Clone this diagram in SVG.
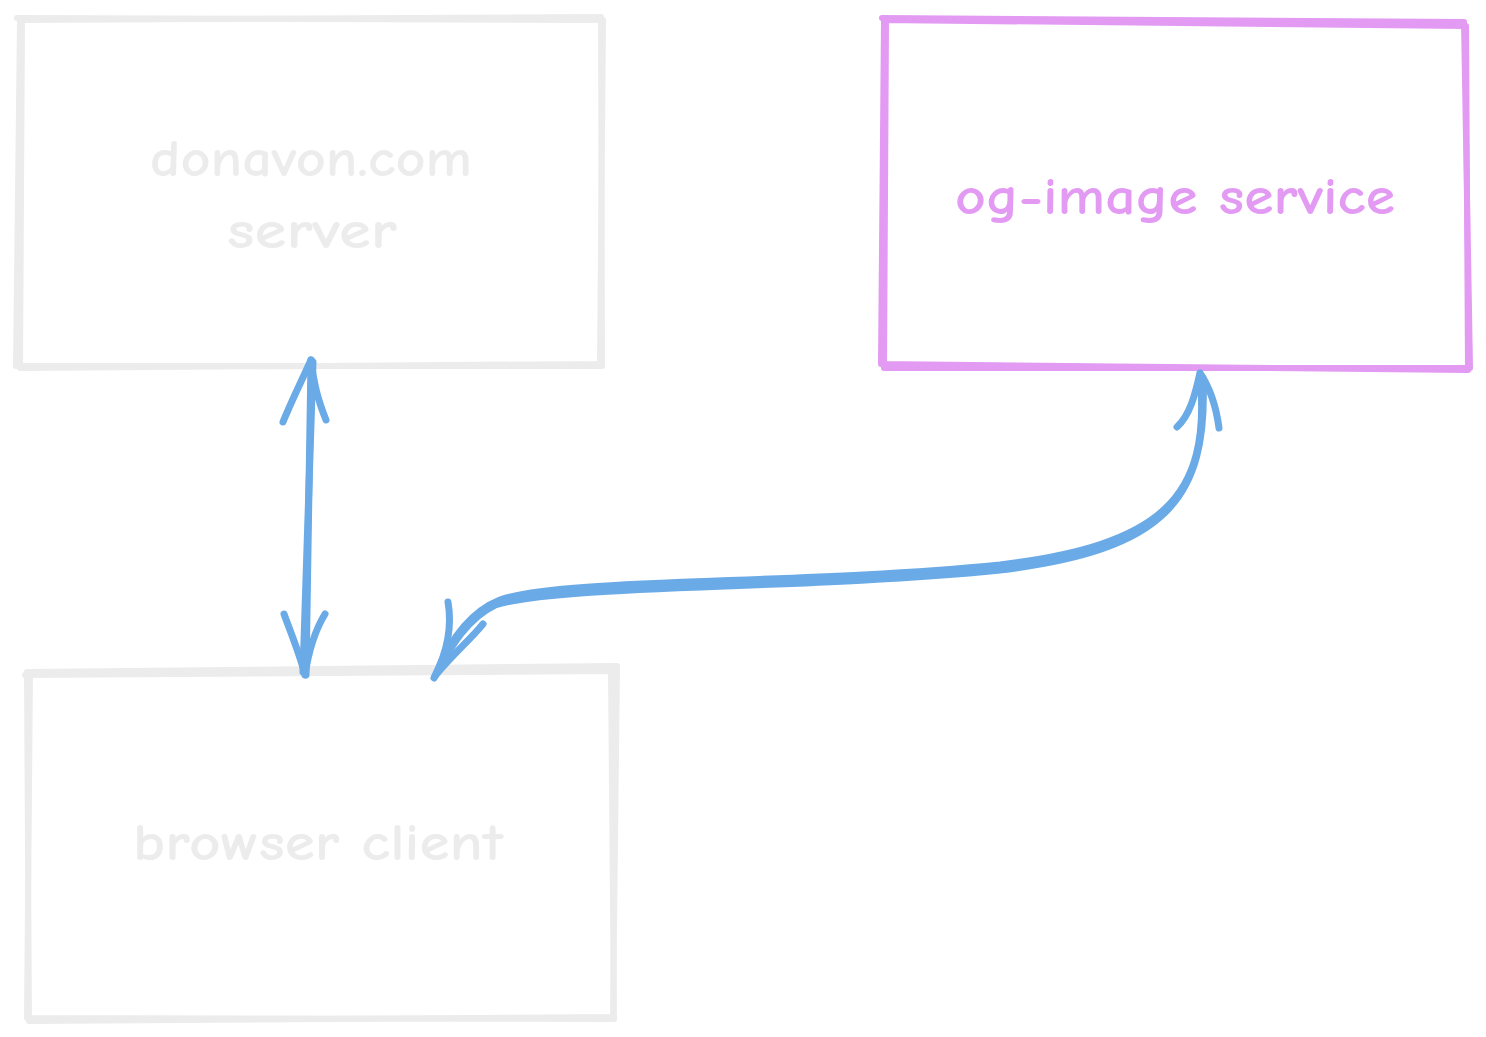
<svg xmlns="http://www.w3.org/2000/svg" width="1486" height="1037" viewBox="0 0 1486 1037">
<style>
.box{fill:none;stroke-linecap:round;stroke-linejoin:round}
.gray{stroke:#ececec;stroke-width:6}
.pink{stroke:#e39af3;stroke-width:6}
.lbl{font-family:"Comic Neue","Open Sans","Liberation Sans",sans-serif;font-size:52px;font-weight:bold;text-anchor:middle}
.conn{fill:none;stroke:#6aaae6;stroke-width:7;stroke-linecap:round;stroke-linejoin:round}
</style>
<rect width="1486" height="1037" fill="#ffffff"/>
<g id="node-server">
<path class="box gray" d="M20 20 L601 17 L602 366 L16 366 Z"/>
<path class="box gray" d="M17 18 L603 20 L600 364 L20 368 L22 22"/>
<text class="lbl" x="311" y="176" fill="#ececec" textLength="322" lengthAdjust="spacingAndGlyphs">donavon.com</text>
<text class="lbl" x="312" y="248" fill="#ececec" textLength="170" lengthAdjust="spacingAndGlyphs">server</text>
</g>
<g id="node-og">
<path class="box pink" d="M884 20 L1466 26 L1468 370 L881 364 Z"/>
<path class="box pink" d="M882 18 L1464 22 L1470 368 L884 368 L886 22"/>
<text class="lbl" x="1175" y="214" fill="#e39af3" textLength="440" lengthAdjust="spacingAndGlyphs">og-image service</text>
</g>
<g id="node-browser">
<path class="box gray" d="M27 672 L617 666 L613 1017 L29 1021 Z"/>
<path class="box gray" d="M25 675 L611 671 L614 1019 L27 1018 L30 672"/>
<text class="lbl" x="318" y="860" fill="#ececec" textLength="370" lengthAdjust="spacingAndGlyphs">browser client</text>
</g>
<g id="connectors">
<path class="conn" d="M311 360 L306 675"/>
<path class="conn" d="M313 362 L303 672"/>
<path class="conn" d="M283 422 C292 400 302 380 311 360 M326 420 C318 400 314 385 311 360"/>
<path class="conn" d="M284 614 C292 636 300 655 305 675 M325 614 C314 632 308 655 305 675"/>
<path class="conn" d="M1200 375 C1212 500 1160 545 1000 565 C800 585 560 578 500 600 C470 612 450 640 436 674"/>
<path class="conn" d="M1203 378 C1208 500 1165 550 1000 570 C800 590 560 584 495 605 C468 618 452 644 434 678"/>
<path class="conn" d="M1177 427 C1190 415 1195 395 1200 373 M1219 428 C1216 405 1210 388 1200 373"/>
<path class="conn" d="M448 602 C452 625 448 650 435 676 M483 624 C470 640 452 655 435 676"/>
</g>
</svg>
